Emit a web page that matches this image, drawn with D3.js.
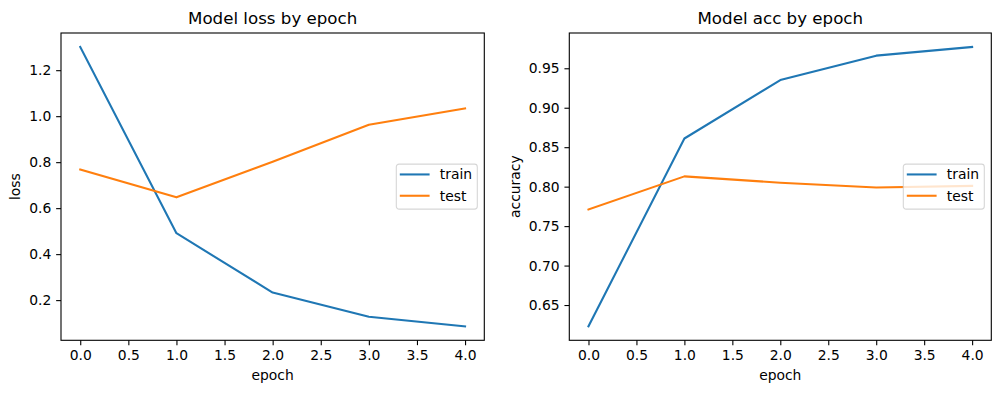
<!DOCTYPE html>
<html>
<head>
<meta charset="utf-8">
<script src="https://cdn.jsdelivr.net/npm/d3@7"></script>
<style>
body { margin: 0; background: #fff; }
svg { display: block; font-family: "DejaVu Sans", sans-serif; }
</style>
</head>
<body>
<script>
// data
var epochs = [0, 1, 2, 3, 4];
var lossTrain = [1.301, 0.491, 0.233, 0.128, 0.086];
var lossTest = [0.768, 0.647, 0.802, 0.963, 1.034];
var accTrain = [0.623, 0.861, 0.935, 0.966, 0.977];
var accTest = [0.771, 0.813, 0.805, 0.799, 0.801];
var xTicks = [0, 0.5, 1, 1.5, 2, 2.5, 3, 3.5, 4];
var lossTicks = [0.2, 0.4, 0.6, 0.8, 1.0, 1.2];
var accTicks = [0.65, 0.70, 0.75, 0.80, 0.85, 0.90, 0.95];
var seriesNames = ["train", "test"];
var colors = ["#1f77b4", "#ff7f0e"];

var W = 1001, H = 393;
var fs = 13.89;      // 10pt
var tick = 4.86;     // 3.5pt

var svg = d3.select("body").append("svg")
  .attr("width", W)
  .attr("height", H);

svg.append("rect").attr("width", W).attr("height", H).attr("fill", "#fff");

function padded(ext) {
  var m = (ext[1] - ext[0]) * 0.05;
  return [ext[0] - m, ext[1] + m];
}

function drawPanel(p) {
  var width = p.right - p.left, height = p.bottom - p.top;
  var g = svg.append("g").attr("transform", "translate(" + p.left + "," + p.top + ")");

  var x = d3.scaleLinear().domain(padded(d3.extent(epochs))).range([0, width]);
  var all = p.series[0].concat(p.series[1]);
  var y = d3.scaleLinear().domain(padded(d3.extent(all))).range([height, 0]);

  // lines
  var line = d3.line()
    .x(function(d, i) { return x(epochs[i]); })
    .y(function(d) { return y(d); });
  p.series.forEach(function(s, i) {
    g.append("path")
      .datum(s)
      .attr("d", line)
      .attr("fill", "none")
      .attr("stroke", colors[i])
      .attr("stroke-width", 2.08)
      .attr("stroke-linejoin", "round")
      .attr("stroke-linecap", "square");
  });

  // x axis
  var xa = g.append("g")
    .attr("transform", "translate(0," + height + ")")
    .call(d3.axisBottom(x).tickValues(xTicks).tickFormat(d3.format(".1f"))
      .tickSize(tick).tickSizeOuter(0).tickPadding(tick));
  // y axis
  var ya = g.append("g")
    .call(d3.axisLeft(y).tickValues(p.yTicks).tickFormat(d3.format(p.yFmt))
      .tickSize(tick).tickSizeOuter(0).tickPadding(tick));

  [xa, ya].forEach(function(a) {
    a.select(".domain").remove();
    a.selectAll("line").attr("stroke", "#000").attr("stroke-width", 1.1);
    a.selectAll("text").attr("fill", "#000").style("font-size", fs + "px")
      .style("font-family", "'DejaVu Sans', sans-serif");
  });

  // frame
  g.append("rect")
    .attr("width", width).attr("height", height)
    .attr("fill", "none").attr("stroke", "#000").attr("stroke-width", 1.1);

  // title
  g.append("text")
    .attr("x", width / 2).attr("y", -9)
    .attr("text-anchor", "middle")
    .style("font-size", "16.67px")
    .text(p.title);

  // x label
  g.append("text")
    .attr("x", width / 2).attr("y", height + 40)
    .attr("text-anchor", "middle")
    .style("font-size", fs + "px")
    .text("epoch");

  // y label, placed left of tick labels
  var bb = ya.node().getBBox();
  g.append("text")
    .attr("transform", "translate(" + (bb.x - 5.6 - 3.3) + "," + (height / 2) + ") rotate(-90)")
    .attr("text-anchor", "middle")
    .style("font-size", fs + "px")
    .text(p.ylabel);

  // legend, center right
  var lw = 81, lh = 45;
  var lg = g.append("g")
    .attr("transform", "translate(" + (width - 7 - lw) + "," + (height / 2 - lh / 2) + ")");
  lg.append("rect")
    .attr("width", lw).attr("height", lh)
    .attr("rx", 2.8)
    .attr("fill", "#fff").attr("fill-opacity", 0.8)
    .attr("stroke", "#ccc").attr("stroke-opacity", 0.8).attr("stroke-width", 1.1);
  seriesNames.forEach(function(name, i) {
    var ry = 10.3 + i * 21.3;
    lg.append("line")
      .attr("x1", 3.5).attr("x2", 33.3)
      .attr("y1", ry).attr("y2", ry)
      .attr("stroke", colors[i]).attr("stroke-width", 2.08);
    lg.append("text")
      .attr("x", 43.5).attr("y", ry + 4.8)
      .style("font-size", fs + "px")
      .text(name);
  });
}

drawPanel({
  left: 61, right: 484.3, top: 33, bottom: 340.3,
  series: [lossTrain, lossTest],
  yTicks: lossTicks, yFmt: ".1f",
  title: "Model loss by epoch", ylabel: "loss"
});

drawPanel({
  left: 569.3, right: 991.3, top: 33, bottom: 340.3,
  series: [accTrain, accTest],
  yTicks: accTicks, yFmt: ".2f",
  title: "Model acc by epoch", ylabel: "accuracy"
});
</script>
</body>
</html>
